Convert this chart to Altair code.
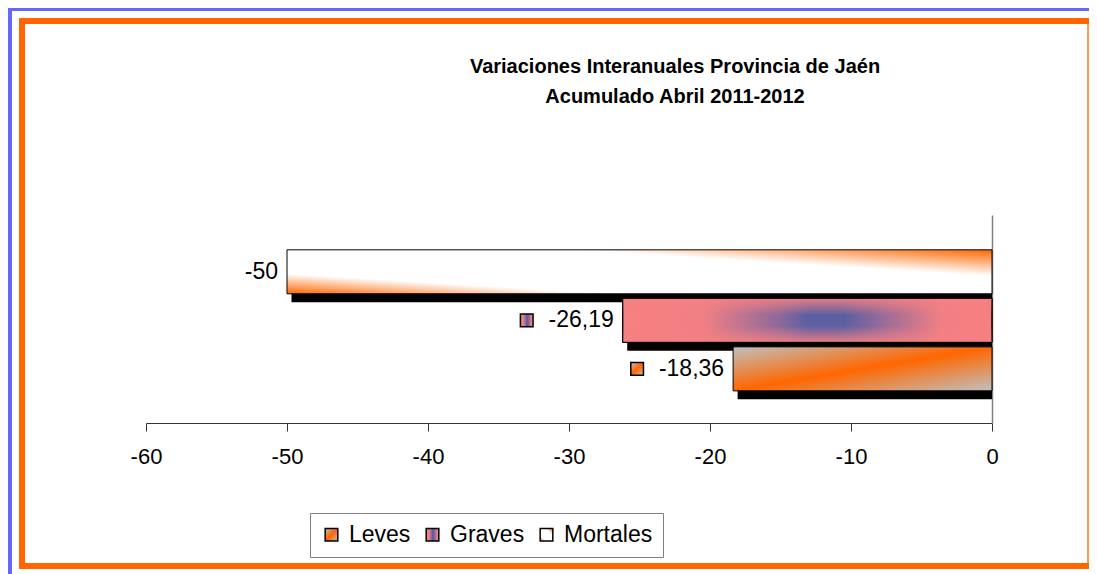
import altair as alt
import pandas as pd

# ---- data ----
series = ["Leves", "Graves", "Mortales"]          # legend order
valores = [-18.36, -26.19, -50.0]
orden_barras = ["Mortales", "Graves", "Leves"]    # top to bottom
x_ticks = [-60, -50, -40, -30, -20, -10, 0]
con_marca = ["Leves", "Graves"]                   # labels that show a legend key
titulo = ["Variaciones Interanuales Provincia de Jaén", "Acumulado Abril  2011-2012"]

df = pd.DataFrame({"serie": series, "valor": valores})
deco = pd.DataFrame({"d": [0]})

FONT = "Liberation Sans"
ORANGE = "#FF6600"
BLUE = "#6666FF"

g_leves = ("{gradient: 'linear', x1: 0, y1: 0, x2: 1, y2: 1, stops: ["
           "{offset: 0, color: '#c0c0c0'}, {offset: 0.5, color: '#ff6600'}, {offset: 1, color: '#c0c0c0'}]}")
g_graves = ("{gradient: 'linear', x1: 0, y1: 0, x2: 1, y2: 0, stops: ["
            "{offset: 0, color: '#f8807f'}, {offset: 0.22, color: '#f07f84'}, "
            "{offset: 0.43, color: '#8a689c'}, {offset: 0.5, color: '#5c5fa2'}, "
            "{offset: 0.6, color: '#5c5fa2'}, {offset: 0.68, color: '#8a689c'}, "
            "{offset: 0.86, color: '#f07f84'}, {offset: 1, color: '#f8807f'}]}")
g_mortales = ("{gradient: 'linear', x1: 0, y1: 1, x2: 1, y2: 0, stops: ["
              "{offset: 0, color: '#ff6600'}, {offset: 0.23, color: '#ffffff'}, "
              "{offset: 0.7, color: '#ffffff'}, {offset: 1, color: '#ff6600'}]}")
# vertical veil that makes the Graves centre look like an ellipse
g_graves_veil = alt.LinearGradient(
    gradient="linear", x1=0, y1=0, x2=0, y2=1,
    stops=[alt.GradientStop(offset=0, color="rgba(244,128,130,0.9)"),
           alt.GradientStop(offset=0.38, color="rgba(244,128,130,0)"),
           alt.GradientStop(offset=0.62, color="rgba(244,128,130,0)"),
           alt.GradientStop(offset=1, color="rgba(244,128,130,0.9)")])

fill_scale = alt.Scale(domain=series,
                       range=[alt.ExprRef(expr=g_leves), alt.ExprRef(expr=g_graves), alt.ExprRef(expr=g_mortales)])

x_enc = alt.X("valor:Q",
              scale=alt.Scale(domain=[-60, 0], nice=False, zero=True),
              axis=alt.Axis(values=x_ticks, labelExpr="datum.value + ''", title=None, grid=False,
                            labelFontSize=22, labelFont=FONT, labelColor="black", labelPadding=15,
                            tickSize=8, tickColor="#333333", domainColor="#333333", labelFlush=False))
y_enc = alt.Y("serie:N", sort=orden_barras,
              scale=alt.Scale(paddingInner=0.093, paddingOuter=0.69, align=0.52),
              axis=alt.Axis(orient="right", labels=False, ticks=False, title=None,
                            domainColor="#808080", domainWidth=1.5))

base = alt.Chart(df)

shadow = base.mark_bar(color="black", xOffset=4.5, yOffset=8.5, y2Offset=8.5, clip=True).encode(
    x=x_enc, y=y_enc)

bars = base.mark_bar(stroke="black", strokeWidth=1).encode(
    x=x_enc, y=y_enc,
    fill=alt.Fill("serie:N", scale=fill_scale,
                  legend=alt.Legend(title=None, orient="none", legendX=164, legendY=298,
                                    direction="horizontal", columns=3,
                                    fillColor="white", strokeColor="#808080", padding=10,
                                    symbolType="square", symbolSize=160,
                                    symbolStrokeColor="black", symbolStrokeWidth=1.5,
                                    labelFontSize=23, labelFont=FONT, labelColor="black",
                                    labelOffset=6, columnPadding=10)))

veil = base.transform_filter(
    alt.FieldEqualPredicate(field="serie", equal="Graves")
).mark_bar(fill=g_graves_veil, stroke="black", strokeWidth=1).encode(x=x_enc, y=y_enc)

labels = base.transform_calculate(
    lab="replace(toString(datum.valor), '.', ',')"
).mark_text(align="right", baseline="middle", dx=-9, fontSize=23, font=FONT, color="black").encode(
    x=x_enc, y=y_enc, text="lab:N")

keys = base.transform_filter(
    alt.FieldOneOfPredicate(field="serie", oneOf=con_marca)
).mark_square(size=160, stroke="black", strokeWidth=1.5, xOffset=-96, opacity=1, filled=True).encode(
    x=x_enc, y=y_enc, fill=alt.Fill("serie:N", scale=fill_scale))


def frame(x1, x2, y1, y2, color):
    return alt.Chart(deco).mark_rect(color=color).encode(
        x=alt.value(x1), x2=alt.value(x2), y=alt.value(y1), y2=alt.value(y2))


frames = [
    frame(-138, 943, -207, -204, BLUE),
    frame(-138, -134, -207, 359, BLUE),
    frame(-127, 943, -197, -191, ORANGE),
    frame(-127, -121, -197, 354, ORANGE),
    frame(-127, 943, 348, 354, ORANGE),
    frame(941, 943, -191, 348, "#FF9A55"),
]

chart = alt.layer(*frames, shadow, bars, veil, labels, keys).properties(
    width=846, height=208,
    padding={"left": 138, "top": 207, "right": 97, "bottom": 151},
    autosize=alt.AutoSizeParams(type="none"),
    title=alt.TitleParams(text=titulo, fontSize=20, fontWeight="bold", font=FONT, color="black",
                          anchor="middle", frame="group", dx=106, offset=-99, lineHeight=30),
    background="white",
).configure_view(stroke=None)

chart.save("out.html", embed_options={"renderer": "svg", "actions": False})
